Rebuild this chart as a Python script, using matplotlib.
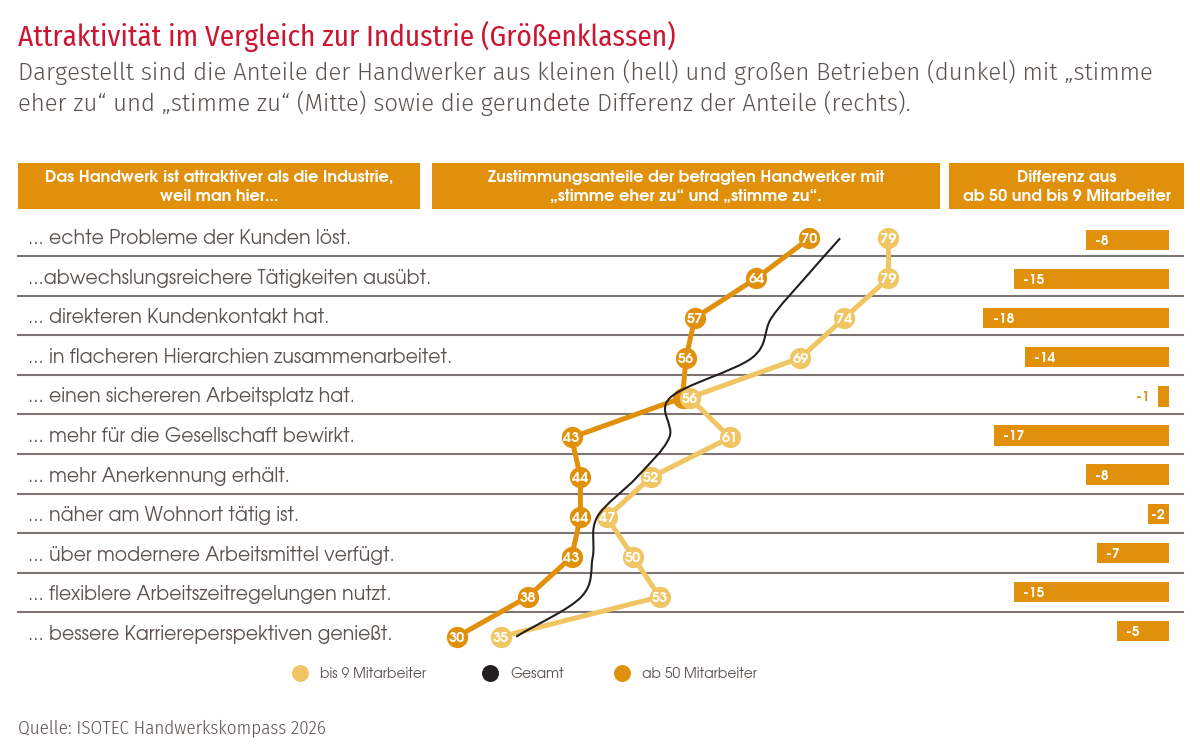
import matplotlib
matplotlib.use("Agg")
import matplotlib.pyplot as plt
from matplotlib.lines import Line2D
from matplotlib.patches import Rectangle, PathPatch
from matplotlib.path import Path

# --- data -------------------------------------------------------------
statements = [
    "... echte Probleme der Kunden löst.",
    "...abwechslungsreichere Tätigkeiten ausübt.",
    "... direkteren Kundenkontakt hat.",
    "... in flacheren Hierarchien zusammenarbeitet.",
    "... einen sichereren Arbeitsplatz hat.",
    "... mehr für die Gesellschaft bewirkt.",
    "... mehr Anerkennung erhält.",
    "... näher am Wohnort tätig ist.",
    "... über modernere Arbeitsmittel verfügt.",
    "... flexiblere Arbeitszeitregelungen nutzt.",
    "... bessere Karriereperspektiven genießt.",
]
small_firms = [79, 79, 74, 69, 56.4, 61, 52, 47, 50, 53, 35]     # bis 9 Mitarbeiter
large_firms = [70, 64, 57, 56, 55.6, 43, 44, 44, 43, 38, 30]     # ab 50 Mitarbeiter
overall = [73.5, 69.5, 65.7, 63.5, 54.2, 54.1, 50.4, 45.9, 45.4, 44.1, 36.7]  # Gesamt
difference = [-8, -15, -18, -14, -1, -17, -8, -2, -7, -15, -5]

series_names = ["bis 9 Mitarbeiter", "Gesamt", "ab 50 Mitarbeiter"]
headers = [
    "Das Handwerk ist attraktiver als die Industrie,\nweil man hier...",
    "Zustimmungsanteile der befragten Handwerker mit\n„stimme eher zu“ und „stimme zu“.",
    "Differenz aus\nab 50 und bis 9 Mitarbeiter",
]
title = "Attraktivität im Vergleich zur Industrie (Größenklassen)"
subtitle = ["Dargestellt sind die Anteile der Handwerker aus kleinen (hell) und großen Betrieben (dunkel) mit „stimme",
            "eher zu“ und „stimme zu“ (Mitte) sowie die gerundete Differenz der Anteile (rechts)."]
source = "Quelle: ISOTEC Handwerkskompass 2026"

LIGHT = "#f0c563"
DARK = "#e0900b"
BLACK = "#231f20"
GREY = "#5b5350"
RED = "#cc1531"

GOTHIC = ["TeX Gyre Adventor", "DejaVu Sans"]
COND = ["Fira Sans Condensed", "DejaVu Sans"]
HUMAN = ["Fira Sans", "DejaVu Sans"]

W, H = 1200, 755
fig = plt.figure(figsize=(W / 100, H / 100), dpi=100)
renderer = fig.canvas.get_renderer()


def fit(t, width):
    w = t.get_window_extent(renderer).width
    t.set_fontsize(t.get_fontsize() * width / w)


def px_axes(left, top, right, bottom):
    return fig.add_axes([left / W, 1 - bottom / H, (right - left) / W, (bottom - top) / H])


# background axes in pixel units for boxes, rules and texts
bg = px_axes(0, 0, W, H)
bg.set_xlim(0, W)
bg.set_ylim(H, 0)
bg.axis("off")

t = bg.text(18, 46, title, color=RED, family=COND, fontsize=22, va="baseline")
fit(t, 658)
t1 = bg.text(18, 80, subtitle[0], color=GREY, family=HUMAN, weight=300, fontsize=15, va="baseline")
fit(t1, 1144)
bg.text(18, 111, subtitle[1], color=GREY, family=HUMAN, weight=300, fontsize=t1.get_fontsize(), va="baseline")
t = bg.text(18, 733, source, color=GREY, family=COND, weight=300, fontsize=12, va="baseline")
fit(t, 308)

# header boxes
boxes = [(18, 420), (432, 940), (949, 1184)]
head_texts = []
for (x0, x1), txt in zip(boxes, headers):
    bg.add_patch(Rectangle((x0, 163), x1 - x0, 46, color=DARK, lw=0))
    head_texts.append(bg.text((x0 + x1) / 2, 187, txt, color="white", family=GOTHIC, weight="bold",
                              fontsize=10, ha="center", va="center", linespacing=1.3))
probe = bg.text(0, -50, headers[2].split("\n")[1], family=GOTHIC, weight="bold", fontsize=10)
fit(probe, 208)
for ht in head_texts:
    ht.set_fontsize(probe.get_fontsize())
probe.remove()

# row separators
for k in range(len(statements) - 1):
    y = 256 + 39.6 * k
    bg.plot([18, 1183], [y, y], color="#7d7573", lw=1.5, zorder=1)

# statements
probe = bg.text(0, -50, max(statements, key=len), family=GOTHIC, fontsize=11)
fit(probe, 424)
label_size = probe.get_fontsize()
probe.remove()
for i, s in enumerate(statements):
    bg.text(28, 244 + 39.6 * i, s, color=GREY, family=GOTHIC, fontsize=label_size, va="baseline")

# --- middle chart -------------------------------------------------------
ax = px_axes(432, 218.4, 942, 656.6)
ax.set_xlim(27.14, 85.08)
ax.set_ylim(len(statements) - 0.5, -0.5)
ax.axis("off")
ax.patch.set_alpha(0)
rows = list(range(len(statements)))

for vals, other, col, z in [(large_firms, small_firms, DARK, 3), (small_firms, None, LIGHT, 4)]:
    ax.plot(vals, rows, color=col, lw=3.6, marker="o", ms=15.3, mew=0, zorder=z,
            solid_joinstyle="round", solid_capstyle="round", clip_on=False)
    for r, v in enumerate(vals):
        # the dark label is hidden where the light circle sits on top of it
        if other is not None and abs(other[r] - v) < 2:
            continue
        ax.text(v, r, f"{round(v)}", color="white", family=GOTHIC, weight="bold", fontsize=10.5,
                ha="center", va="center_baseline", zorder=z + 0.5)

# smoothed Gesamt curve as cubic Bezier through the values
n = len(overall)
tang = []
for i in range(n):
    a = overall[max(i - 1, 0)]
    b = overall[min(i + 1, n - 1)]
    tang.append((b - a) / (2 if 0 < i < n - 1 else 1))
verts = [(overall[0], 0)]
codes = [Path.MOVETO]
for i in range(n - 1):
    verts += [(overall[i] + tang[i] / 3, i + 1 / 3),
              (overall[i + 1] - tang[i + 1] / 3, i + 2 / 3),
              (overall[i + 1], i + 1)]
    codes += [Path.CURVE4] * 3
ax.add_patch(PathPatch(Path(verts, codes), fill=False, edgecolor=BLACK, lw=1.5, zorder=6, clip_on=False))

# --- difference bars ----------------------------------------------------
axr = px_axes(949, 220.45, 1184, 650.55)
axr.set_xlim(-21.35, 1.487)
axr.set_ylim(len(statements) - 0.5, -0.5)
axr.axis("off")
axr.patch.set_alpha(0)
axr.barh(rows, difference, height=0.52, color=DARK, zorder=3)
px_per_unit = 235 / (21.35 + 1.487)
for r, d in zip(rows, difference):
    length = abs(d) * px_per_unit
    if length >= 40:
        axr.annotate(f"{d}", (d, r), xytext=(6.5, 0), textcoords="offset points", color="white",
                     family=GOTHIC, weight="bold", fontsize=10, ha="left", va="center_baseline", zorder=4)
    elif length >= 20:
        axr.annotate(f"{d}", (d, r), xytext=(2, 0), textcoords="offset points", color="white",
                     family=GOTHIC, weight="bold", fontsize=10, ha="left", va="center_baseline", zorder=4)
    else:
        axr.annotate(f"{d}", (d, r), xytext=(-6.5, 0), textcoords="offset points", color=DARK,
                     family=GOTHIC, weight="bold", fontsize=10, ha="right", va="center_baseline", zorder=4)

# --- legend ---------------------------------------------------------------
for name, col, cx in zip(series_names, [LIGHT, BLACK, DARK], [300, 490, 622]):
    h = Line2D([], [], ls="", marker="o", ms=12.2, mew=0, color=col)
    fig.legend(handles=[h], labels=[name], loc="center left", frameon=False,
               bbox_to_anchor=((cx - 8.5) / W, 1 - 674 / H), borderpad=0, borderaxespad=0,
               handlelength=1.25, handletextpad=0.8,
               prop={"family": GOTHIC, "size": 10}, labelcolor=GREY)

fig.savefig("out.png", dpi=100)
